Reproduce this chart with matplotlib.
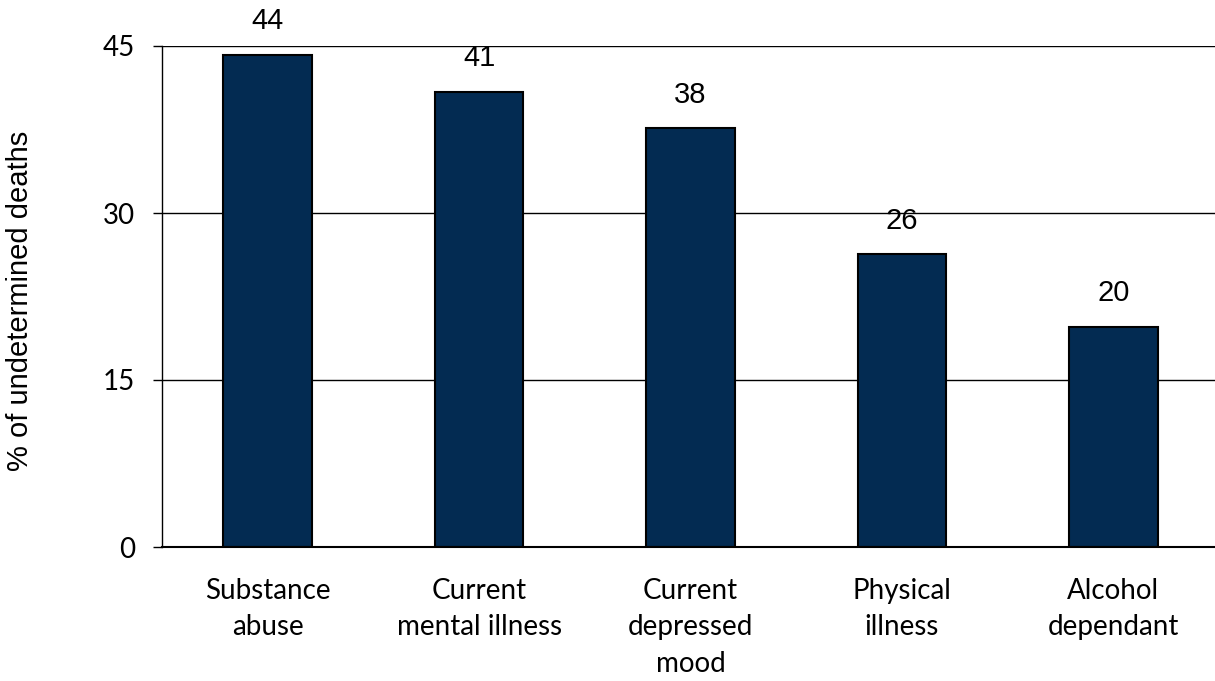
import matplotlib.pyplot as plt

categories = ["Substance\nabuse", "Current\nmental illness", "Current\ndepressed\nmood",
              "Physical\nillness", "Alcohol\ndependant"]
values = [44.2, 40.9, 37.6, 26.3, 19.8]
yticks = [0, 15, 30, 45]

BAR_COLOR = "#032B52"

fig = plt.figure(figsize=(12.15, 6.81), dpi=100)
ax = fig.add_axes([162 / 1215, 1 - 547 / 681, 5 * 211.4 / 1215, 501 / 681])

x = range(len(categories))
bars = ax.bar(x, values, width=0.42, color=BAR_COLOR, edgecolor="black", linewidth=1.5, zorder=3)

for b, v in zip(bars, values):
    ax.annotate(f"{v:.0f}", (b.get_x() + b.get_width() / 2, v), xytext=(0, 14),
                textcoords="offset points", ha="center", va="bottom",
                fontsize=21, family="Liberation Sans", annotation_clip=False)

ax.set_xlim(-0.5, len(categories) - 0.5)
ax.set_ylim(0, 45)
ax.set_yticks(yticks)
ax.set_xticks(list(x))
ax.set_xticklabels(categories, fontsize=20, family="Lato", linespacing=1.5)
for lbl in ax.get_yticklabels():
    lbl.set_fontsize(20)
    lbl.set_family("Lato")

ax.grid(axis="y", color="black", linewidth=1.0, zorder=0)
ax.set_axisbelow(True)
for s in ["top", "right"]:
    ax.spines[s].set_visible(False)
ax.spines["left"].set_linewidth(1.0)
ax.spines["bottom"].set_linewidth(1.5)
ax.spines["bottom"].set_zorder(4)
ax.tick_params(axis="y", length=6.5, width=1.0, pad=13)
ax.tick_params(axis="x", length=0, pad=22)

fig.text(20 / 1215, 1 - 301 / 681, "% of undetermined deaths", rotation=90,
         ha="center", va="center", fontsize=21, family="Liberation Sans")

fig.savefig("out.png", dpi=100)
